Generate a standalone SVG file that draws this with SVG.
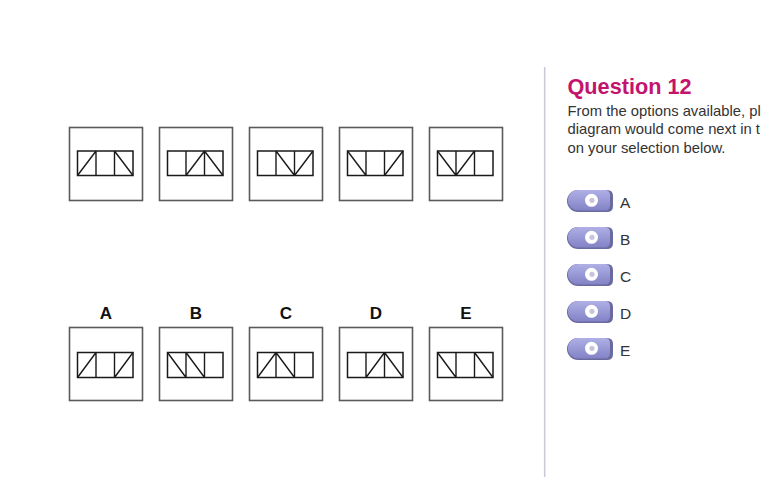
<svg xmlns="http://www.w3.org/2000/svg" width="761" height="477" viewBox="0 0 761 477">
<defs>
<style>
.outer{fill:#fff;stroke:#5a5a5a;stroke-width:1.6}
.inner{fill:none;stroke:#1a1a1a;stroke-width:1.5}
.ln{stroke:#1a1a1a;stroke-width:1.4;fill:none}
.lbl{font-family:"Liberation Sans",Arial,sans-serif;font-weight:bold;font-size:17px;fill:#111;text-anchor:middle}
.title{font-family:"Liberation Sans",Arial,sans-serif;font-weight:bold;font-size:21.7px;fill:#c4136c}
.body{font-family:"Liberation Sans",Arial,sans-serif;font-size:14.8px;fill:#333}
.opt{font-family:"Liberation Sans",Arial,sans-serif;font-size:15.5px;fill:#333}
</style>
<linearGradient id="pg" x1="0" y1="0" x2="0" y2="1">
<stop offset="0" stop-color="#b0b0e6"/>
<stop offset="1" stop-color="#8282c6"/>
</linearGradient>
<g id="cellbox">
<rect class="outer" x="0" y="0" width="73" height="73"/>
</g>
<g id="pill">
<path d="M11,-11 H40 Q46,-11 46,-5 V5 Q46,11 40,11 H11 A11,11 0 0 1 11,-11 Z" fill="#6a6a9e"/>
<path d="M11,-11 H38 Q43,-11 43,-5.5 V3.5 Q43,9.5 38,9.5 H11 A10.25,10.25 0 0 1 11,-11 Z" fill="url(#pg)"/>
<circle cx="24.5" cy="-0.7" r="6.5" fill="#fff"/>
<circle cx="25" cy="-0.7" r="2.6" fill="#c6c6da"/>
</g>
</defs>
<rect width="761" height="477" fill="#fff"/>

<!-- Top row -->
<g id="q1" transform="translate(69.5,127.5)">
<use href="#cellbox"/>
<rect class="inner" x="8" y="23.5" width="55.5" height="24.5"/>
<path class="ln" d="M26.5,23.5V48 M45,23.5V48 M8,48 L26.5,23.5 M45,23.5 L63.5,48"/>
</g>
<g id="q2" transform="translate(159.5,127.5)">
<use href="#cellbox"/>
<rect class="inner" x="8" y="23.5" width="55.5" height="24.5"/>
<path class="ln" d="M26.5,23.5V48 M45,23.5V48 M26.5,48 L45,23.5 M45,23.5 L63.5,48"/>
</g>
<g id="q3" transform="translate(249.5,127.5)">
<use href="#cellbox"/>
<rect class="inner" x="8" y="23.5" width="55.5" height="24.5"/>
<path class="ln" d="M26.5,23.5V48 M45,23.5V48 M26.5,23.5 L45,48 M45,48 L63.5,23.5"/>
</g>
<g id="q4" transform="translate(339.5,127.5)">
<use href="#cellbox"/>
<rect class="inner" x="8" y="23.5" width="55.5" height="24.5"/>
<path class="ln" d="M26.5,23.5V48 M45,23.5V48 M8,23.5 L26.5,48 M45,48 L63.5,23.5"/>
</g>
<g id="q5" transform="translate(429.5,127.5)">
<use href="#cellbox"/>
<rect class="inner" x="8" y="23.5" width="55.5" height="24.5"/>
<path class="ln" d="M26.5,23.5V48 M45,23.5V48 M8,23.5 L26.5,48 M26.5,48 L45,23.5"/>
</g>

<!-- Options row -->
<g id="optA" transform="translate(69.5,327.5)">
<use href="#cellbox"/>
<rect class="inner" x="8" y="25" width="55.5" height="25"/>
<path class="ln" d="M26.5,25V50 M45,25V50 M8,50 L26.5,25 M45,50 L63.5,25"/>
<text class="lbl" x="36.5" y="-8.5">A</text>
</g>
<g id="optB" transform="translate(159.5,327.5)">
<use href="#cellbox"/>
<rect class="inner" x="8" y="25" width="55.5" height="25"/>
<path class="ln" d="M26.5,25V50 M45,25V50 M8,25 L26.5,50 M26.5,25 L45,50"/>
<text class="lbl" x="36.5" y="-8.5">B</text>
</g>
<g id="optC" transform="translate(249.5,327.5)">
<use href="#cellbox"/>
<rect class="inner" x="8" y="25" width="55.5" height="25"/>
<path class="ln" d="M26.5,25V50 M45,25V50 M8,50 L26.5,25 M26.5,25 L45,50"/>
<text class="lbl" x="36.5" y="-8.5">C</text>
</g>
<g id="optD" transform="translate(339.5,327.5)">
<use href="#cellbox"/>
<rect class="inner" x="8" y="25" width="55.5" height="25"/>
<path class="ln" d="M26.5,25V50 M45,25V50 M26.5,50 L45,25 M45,25 L63.5,50"/>
<text class="lbl" x="36.5" y="-8.5">D</text>
</g>
<g id="optE" transform="translate(429.5,327.5)">
<use href="#cellbox"/>
<rect class="inner" x="8" y="25" width="55.5" height="25"/>
<path class="ln" d="M26.5,25V50 M45,25V50 M8,25 L26.5,50 M45,25 L63.5,50"/>
<text class="lbl" x="36.5" y="-8.5">E</text>
</g>

<!-- Divider -->
<line x1="544.7" y1="67" x2="544.7" y2="477" stroke="#c9ccd8" stroke-width="1.6"/>

<!-- Question panel -->
<g id="question">
<text class="title" x="567.5" y="94">Question 12</text>
<text class="body" x="567.5" y="115.5">From the options available, pl</text>
<text class="body" x="567.5" y="134">diagram would come next in t</text>
<text class="body" x="567.5" y="152.5">on your selection below.</text>
</g>

<g id="radios">
<g id="rA"><use href="#pill" x="567" y="201"/><text class="opt" x="620" y="207.5">A</text></g>
<g id="rB"><use href="#pill" x="567" y="238"/><text class="opt" x="620" y="244.5">B</text></g>
<g id="rC"><use href="#pill" x="567" y="275"/><text class="opt" x="620" y="281.5">C</text></g>
<g id="rD"><use href="#pill" x="567" y="312"/><text class="opt" x="620" y="318.5">D</text></g>
<g id="rE"><use href="#pill" x="567" y="349"/><text class="opt" x="620" y="355.5">E</text></g>
</g>
</svg>
